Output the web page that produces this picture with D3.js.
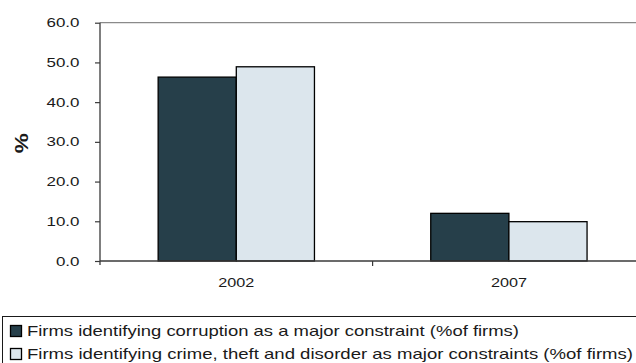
<!DOCTYPE html>
<html>
<head>
<meta charset="utf-8">
<script src="https://cdn.jsdelivr.net/npm/d3@7"></script>
<style>
  html, body { margin: 0; padding: 0; background: #fff; }
  svg { display: block; font-family: "Liberation Sans", Arial, sans-serif; }
</style>
</head>
<body>
<svg id="chart" width="636" height="363"></svg>
<script>
// Survey years and the two firm-level indicators (% of firms)
const years = ["2002", "2007"];
const seriesNames = [
  "Firms identifying corruption as a major constraint (%of firms)",
  "Firms identifying crime, theft and disorder as major constraints (%of firms)"
];
const corruption = [46.3, 12.0];
const crime = [48.9, 9.9];
const yTicks = [0, 10, 20, 30, 40, 50, 60];
const seriesColors = ["#263f4a", "#dce6ed"];

const svg = d3.select("#chart");
const margin = { left: 100, top: 22.7, bottom: 261 };
const bandWidth = 272.6;

const x = d3.scaleBand()
  .domain(years)
  .range([margin.left, margin.left + bandWidth * years.length])
  .paddingInner(0)
  .paddingOuter(0);

const xInner = d3.scaleBand()
  .domain([0, 1])
  .range([0, x.bandwidth()])
  .paddingInner(0)
  .paddingOuter(0.744);

const y = d3.scaleLinear().domain([0, 60]).range([margin.bottom, margin.top]);

const values = [corruption, crime];

// top frame line of the plot area
svg.append("line")
  .attr("x1", margin.left).attr("x2", 636)
  .attr("y1", y(60)).attr("y2", y(60))
  .attr("stroke", "#8a8a8a").attr("stroke-width", 1.2);

// bars
const groups = svg.selectAll("g.year")
  .data(years)
  .join("g")
  .attr("class", "year")
  .attr("transform", d => `translate(${x(d)},0)`);

groups.selectAll("rect")
  .data((d, i) => values.map((s, k) => ({ k, v: s[i] })))
  .join("rect")
  .attr("x", d => xInner(d.k))
  .attr("width", xInner.bandwidth())
  .attr("y", d => y(d.v))
  .attr("height", d => y(0) - y(d.v))
  .attr("fill", d => seriesColors[d.k])
  .attr("stroke", "#000")
  .attr("stroke-width", 1.3);

// y axis
const yAxis = svg.append("g")
  .attr("transform", `translate(${margin.left},0)`)
  .call(d3.axisLeft(y).tickValues(yTicks).tickFormat(d3.format(".1f")).tickSize(5).tickPadding(15.5));
yAxis.select(".domain").attr("stroke", "#3a3a3a").attr("stroke-width", 1.3)
  .attr("d", `M0,${y(60)}V${y(0) + 4}`);
yAxis.selectAll(".tick line").attr("stroke", "#3a3a3a").attr("stroke-width", 1.2);
yAxis.selectAll(".tick text")
  .attr("fill", "#1a1a1a")
  .style("font-size", "12.8px")
  .attr("textLength", d => d >= 10 ? 33 : 23.6)
  .attr("lengthAdjust", "spacingAndGlyphs");

// x axis
const xAxis = svg.append("g")
  .attr("transform", `translate(0,${y(0)})`)
  .call(d3.axisBottom(x).tickSize(0).tickPadding(16.5));
xAxis.select(".domain").attr("stroke", "#3a3a3a").attr("stroke-width", 1.3)
  .attr("d", `M${margin.left},0H636`);
xAxis.selectAll(".tick text")
  .attr("fill", "#1a1a1a")
  .style("font-size", "13.5px")
  .attr("textLength", 36)
  .attr("lengthAdjust", "spacingAndGlyphs");
// category separator tick
xAxis.append("line")
  .attr("x1", x(years[1])).attr("x2", x(years[1]))
  .attr("y1", 0).attr("y2", 5)
  .attr("stroke", "#3a3a3a").attr("stroke-width", 1.2);

// y axis title
svg.append("text")
  .attr("transform", `translate(28,${(y(0) + y(60)) / 2 + 1.5}) rotate(-90)`)
  .attr("text-anchor", "middle")
  .attr("font-weight", "bold")
  .attr("font-size", "18px")
  .attr("fill", "#1a1a1a")
  .attr("textLength", 20)
  .attr("lengthAdjust", "spacingAndGlyphs")
  .text("%");

// legend
const legend = svg.append("g");
legend.append("rect")
  .attr("x", 2.5).attr("y", 316.5)
  .attr("width", 640).attr("height", 60)
  .attr("fill", "#fff").attr("stroke", "#1a1a1a").attr("stroke-width", 1);

const legendWidths = [492, 606];
const items = legend.selectAll("g.item")
  .data(seriesNames)
  .join("g")
  .attr("class", "item")
  .attr("transform", (d, i) => `translate(0,${331 + i * 23})`);
items.append("rect")
  .attr("x", 10.5).attr("y", -5.5)
  .attr("width", 11).attr("height", 11)
  .attr("fill", (d, i) => seriesColors[i])
  .attr("stroke", "#000").attr("stroke-width", 1.3);
items.append("text")
  .attr("x", 27).attr("y", 5.2)
  .attr("font-size", "14.5px")
  .attr("fill", "#1a1a1a")
  .attr("textLength", (d, i) => legendWidths[i])
  .attr("lengthAdjust", "spacingAndGlyphs")
  .text(d => d);
</script>
</body>
</html>
